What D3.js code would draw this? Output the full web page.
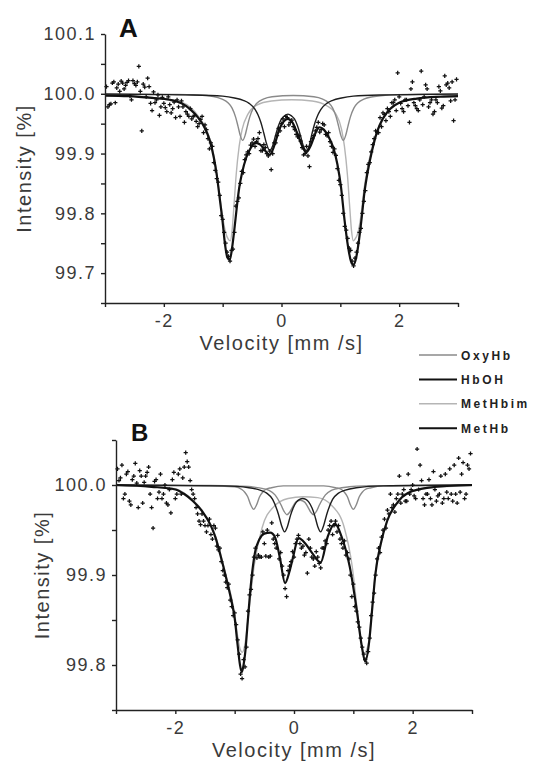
<!DOCTYPE html>
<html>
<head>
<meta charset="utf-8">
<script src="https://cdn.jsdelivr.net/npm/d3@7"></script>
<style>
  body { margin: 0; background: #fff; }
  svg { display: block; font-family: "Liberation Sans", Arial, sans-serif; }
  .axis path, .axis line { stroke: #222; stroke-width: 1.4; }
  .axis text { font-size: 18px; fill: #3a3a3a; letter-spacing: 1.5px; font-family: "Liberation Sans", Arial, sans-serif; }
  .title { font-weight: bold; fill: #111; }
  .label { font-size: 20px; fill: #3a3a3a; letter-spacing: 1.5px; }
  .legend text { font-size: 12px; font-weight: bold; fill: #222; letter-spacing: 2.6px; }
</style>
</head>
<body>
<svg id="chart" width="534" height="761"></svg>
<script>
//channel velocities (mm/s), same for both spectra (two interleaved channel sets)
const velocity = [
  -2.975,-2.925,-2.875,-2.825,-2.775,-2.725,-2.675,-2.625,-2.575,-2.525,
  -2.475,-2.425,-2.375,-2.325,-2.275,-2.225,-2.175,-2.125,-2.075,-2.025,
  -1.975,-1.925,-1.875,-1.825,-1.775,-1.725,-1.675,-1.625,-1.575,-1.525,
  -1.475,-1.425,-1.375,-1.325,-1.275,-1.225,-1.175,-1.125,-1.075,-1.025,
  -0.975,-0.925,-0.875,-0.825,-0.775,-0.725,-0.675,-0.625,-0.575,-0.525,
  -0.475,-0.425,-0.375,-0.325,-0.275,-0.225,-0.175,-0.125,-0.075,-0.025,
  0.025,0.075,0.125,0.175,0.225,0.275,0.325,0.375,0.425,0.475,
  0.525,0.575,0.625,0.675,0.725,0.775,0.825,0.875,0.925,0.975,
  1.025,1.075,1.125,1.175,1.225,1.275,1.325,1.375,1.425,1.475,
  1.525,1.575,1.625,1.675,1.725,1.775,1.825,1.875,1.925,1.975,
  2.025,2.075,2.125,2.175,2.225,2.275,2.325,2.375,2.425,2.475,
  2.525,2.575,2.625,2.675,2.725,2.775,2.825,2.875,2.925,2.975
]
const velocityMid = [
  -2.95,-2.9,-2.85,-2.8,-2.75,-2.7,-2.65,-2.6,-2.55,-2.5,
  -2.45,-2.4,-2.35,-2.3,-2.25,-2.2,-2.15,-2.1,-2.05,-2.0,
  -1.95,-1.9,-1.85,-1.8,-1.75,-1.7,-1.65,-1.6,-1.55,-1.5,
  -1.45,-1.4,-1.35,-1.3,-1.25,-1.2,-1.15,-1.1,-1.05,-1.0,
  -0.95,-0.9,-0.85,-0.8,-0.75,-0.7,-0.65,-0.6,-0.55,-0.5,
  -0.45,-0.4,-0.35,-0.3,-0.25,-0.2,-0.15,-0.1,-0.05,0.0,
  0.05,0.1,0.15,0.2,0.25,0.3,0.35,0.4,0.45,0.5,
  0.55,0.6,0.65,0.7,0.75,0.8,0.85,0.9,0.95,1.0,
  1.05,1.1,1.15,1.2,1.25,1.3,1.35,1.4,1.45,1.5,
  1.55,1.6,1.65,1.7,1.75,1.8,1.85,1.9,1.95,2.0,
  2.05,2.1,2.15,2.2,2.25,2.3,2.35,2.4,2.45,2.5,
  2.55,2.6,2.65,2.7,2.75,2.8,2.85,2.9,2.95
]

//measured intensity (%), spectrum A
const intensityA = [
  100.012,99.982,100.018,99.985,100.016,100.021,100.008,100.019,99.996,100.022,
  100.014,100.046,99.938,100.011,100.026,99.984,100.003,99.99,99.964,99.994,
  99.977,99.995,99.968,99.986,99.99,99.962,99.978,99.97,99.962,99.958,
  99.964,99.945,99.957,99.935,99.94,99.908,99.912,99.872,99.852,99.796,
  99.768,99.735,99.72,99.74,99.812,99.826,99.87,99.89,99.903,99.914,
  99.924,99.92,99.935,99.905,99.91,99.896,99.873,99.918,99.93,99.938,
  99.958,99.962,99.948,99.956,99.94,99.928,99.921,99.898,99.912,99.878,
  99.925,99.938,99.952,99.94,99.948,99.93,99.92,99.902,99.897,99.855,
  99.83,99.778,99.758,99.738,99.712,99.735,99.768,99.8,99.838,99.882,
  99.903,99.925,99.935,99.96,99.968,99.955,99.97,99.985,99.99,100.035,
  99.984,99.97,99.99,99.952,100.02,99.98,99.972,100.038,99.995,100.008,
  99.985,99.966,99.99,100.012,99.976,100.03,100.018,99.988,99.955,100.024
]
const intensityMidA = [
  99.978,99.983,100.02,100.01,100.004,100.018,100.014,100.022,99.99,100.017,
  100.02,100.004,100.016,99.995,100.012,99.972,99.985,99.998,99.978,99.984,
  99.97,99.982,99.975,99.96,99.978,99.988,99.952,99.966,99.975,99.962,
  99.954,99.95,99.962,99.948,99.925,99.918,99.885,99.858,99.83,99.79,
  99.75,99.728,99.738,99.768,99.82,99.85,99.868,99.898,99.9,99.918,
  99.912,99.925,99.905,99.915,99.9,99.904,99.9,99.918,99.942,99.95,
  99.945,99.96,99.952,99.945,99.932,99.93,99.91,99.9,99.896,99.92,
  99.93,99.944,99.936,99.95,99.932,99.935,99.912,99.908,99.875,99.848,
  99.8,99.772,99.742,99.72,99.725,99.75,99.775,99.82,99.868,99.885,
  99.915,99.938,99.935,99.945,99.965,99.975,99.962,99.985,99.972,99.995,
  99.975,99.99,99.98,100.008,99.985,99.975,99.99,99.982,100.015,99.978,
  99.99,99.97,99.985,100.005,99.98,100.015,100.01,100.02,99.99
]

//measured intensity (%), spectrum B
const intensityB = [
  100.018,100.008,99.985,100.012,99.982,100.006,100.024,99.975,100.01,100.003,
  100.014,99.99,99.952,100.006,99.992,99.985,100.0,99.978,99.969,100.014,
  99.99,100.018,100.008,100.036,100.02,99.995,99.985,99.968,99.956,99.96,
  99.948,99.962,99.94,99.952,99.928,99.915,99.9,99.886,99.872,99.855,
  99.845,99.812,99.785,99.798,99.86,99.884,99.92,99.919,99.92,99.948,
  99.921,99.92,99.958,99.935,99.944,99.925,99.9,99.876,99.91,99.926,
  99.935,99.944,99.93,99.922,99.902,99.93,99.918,99.926,99.913,99.93,
  99.938,99.95,99.96,99.955,99.948,99.94,99.93,99.922,99.918,99.876,
  99.865,99.848,99.83,99.812,99.802,99.83,99.87,99.9,99.93,99.942,
  99.962,99.972,99.99,99.978,99.985,100.01,99.99,99.982,100.012,99.995,
  99.988,100.04,100.022,99.985,99.99,100.006,99.978,99.995,99.988,100.01,
  99.985,99.992,100.018,99.982,99.99,100.03,100.012,99.985,100.022,100.035
]
const intensityMidB = [
  100.005,100.022,99.99,100.015,99.978,100.01,100.002,100.016,99.98,100.01,
  100.02,99.975,100.004,99.985,100.012,99.99,99.98,99.995,100.006,99.985,
  100.012,99.99,100.02,100.026,100.005,99.99,99.975,99.96,99.968,99.955,
  99.955,99.945,99.955,99.932,99.93,99.905,99.892,99.89,99.865,99.858,
  99.828,99.79,99.806,99.82,99.878,99.9,99.93,99.922,99.92,99.935,
  99.95,99.921,99.94,99.93,99.918,99.91,99.885,99.905,99.915,99.92,
  99.94,99.935,99.932,99.925,99.94,99.92,99.91,99.92,99.908,99.93,
  99.935,99.955,99.945,99.96,99.955,99.935,99.938,99.925,99.9,99.89,
  99.86,99.842,99.82,99.806,99.815,99.855,99.88,99.918,99.925,99.95,
  99.952,99.968,99.975,99.97,99.99,99.98,99.995,99.982,99.99,100.0,
  99.985,99.995,100.005,99.978,99.99,99.985,100.015,99.982,99.99,99.98,
  100.012,99.985,99.99,100.022,99.98,99.992,100.025,99.99,100.018
]

//fitted curves, [velocity, intensity]
const totalFitA = [[-3,99.997],[-2.6,99.996],[-2.2,99.993],[-1.9,99.99],[-1.7,99.984],[-1.55,99.974],[-1.4,99.958],[-1.3,99.942],[-1.22,99.922],[-1.15,99.893],[-1.1,99.864],[-1.05,99.825],[-1.0,99.785],[-0.96,99.748],[-0.92,99.726],[-0.88,99.722],[-0.84,99.742],[-0.8,99.774],[-0.76,99.81],[-0.72,99.842],[-0.67,99.868],[-0.6,99.893],[-0.52,99.91],[-0.44,99.918],[-0.36,99.915],[-0.28,99.905],[-0.2,99.898],[-0.12,99.914],[-0.04,99.94],[0.04,99.954],[0.11,99.958],[0.18,99.953],[0.26,99.936],[0.34,99.915],[0.42,99.902],[0.5,99.914],[0.58,99.935],[0.65,99.944],[0.72,99.94],[0.8,99.928],[0.88,99.91],[0.95,99.882],[1.01,99.845],[1.07,99.79],[1.13,99.745],[1.18,99.72],[1.22,99.714],[1.26,99.722],[1.31,99.75],[1.36,99.79],[1.41,99.835],[1.47,99.872],[1.54,99.905],[1.62,99.935],[1.72,99.958],[1.85,99.975],[2.0,99.985],[2.3,99.992],[2.7,99.995],[3,99.996]]
const metHbimA = [[-3,99.998],[-2.2,99.994],[-1.7,99.986],[-1.4,99.961],[-1.3,99.945],[-1.22,99.925],[-1.15,99.897],[-1.1,99.868],[-1.05,99.83],[-1.0,99.794],[-0.95,99.768],[-0.9,99.756],[-0.87,99.754],[-0.84,99.771],[-0.81,99.81],[-0.77,99.865],[-0.72,99.912],[-0.67,99.94],[-0.57,99.966],[-0.42,99.981],[-0.17,99.988],[0.175,99.99],[0.52,99.988],[0.77,99.98],[0.92,99.967],[1.02,99.941],[1.07,99.912],[1.12,99.865],[1.16,99.81],[1.19,99.771],[1.22,99.754],[1.25,99.757],[1.3,99.768],[1.35,99.796],[1.4,99.838],[1.46,99.875],[1.53,99.906],[1.61,99.934],[1.72,99.958],[1.85,99.975],[2.0,99.985],[2.5,99.994],[3,99.997]]
const oxyHbA = [[-3,100.0],[-1.86,99.999],[-1.46,99.998],[-1.16,99.9955],[-1.01,99.991],[-0.91,99.985],[-0.84,99.976],[-0.78,99.961],[-0.74,99.946],[-0.7,99.93],[-0.66,99.922],[-0.62,99.93],[-0.58,99.946],[-0.54,99.961],[-0.48,99.976],[-0.41,99.985],[-0.31,99.991],[-0.16,99.995],[0.2,99.997],[0.55,99.995],[0.7,99.991],[0.8,99.985],[0.87,99.976],[0.93,99.961],[0.97,99.946],[1.01,99.93],[1.05,99.922],[1.09,99.93],[1.13,99.946],[1.17,99.961],[1.23,99.976],[1.3,99.985],[1.4,99.991],[1.55,99.995],[1.85,99.998],[3,100.0]]
const hbohA = [[-3,99.9995],[-1.5,99.998],[-1.0,99.996],[-0.8,99.993],[-0.65,99.989],[-0.55,99.984],[-0.45,99.974],[-0.4,99.965],[-0.35,99.952],[-0.3,99.934],[-0.25,99.915],[-0.2,99.905],[-0.15,99.913],[-0.1,99.931],[-0.05,99.947],[0.0,99.958],[0.05,99.963],[0.11,99.966],[0.17,99.963],[0.22,99.958],[0.27,99.947],[0.32,99.931],[0.37,99.913],[0.42,99.905],[0.47,99.913],[0.52,99.934],[0.57,99.952],[0.62,99.965],[0.67,99.974],[0.77,99.984],[0.87,99.989],[1.02,99.993],[1.22,99.996],[1.72,99.998],[3,99.9995]]

const totalFitB = [[-3,100.0],[-2.4,99.998],[-2.0,99.995],[-1.85,99.99],[-1.7,99.982],[-1.55,99.971],[-1.41,99.956],[-1.32,99.941],[-1.24,99.922],[-1.13,99.893],[-1.05,99.87],[-1.0,99.852],[-0.95,99.822],[-0.91,99.8],[-0.88,99.792],[-0.85,99.8],[-0.82,99.815],[-0.78,99.848],[-0.72,99.894],[-0.66,99.924],[-0.58,99.94],[-0.5,99.946],[-0.4,99.947],[-0.32,99.942],[-0.24,99.92],[-0.15,99.891],[-0.08,99.903],[-0.03,99.916],[0.08,99.941],[0.19,99.935],[0.31,99.924],[0.45,99.914],[0.57,99.943],[0.69,99.957],[0.8,99.943],[0.94,99.909],[1.06,99.86],[1.14,99.822],[1.2,99.804],[1.26,99.822],[1.32,99.864],[1.37,99.9],[1.46,99.934],[1.57,99.96],[1.75,99.981],[1.92,99.991],[2.27,99.997],[3,100.0]]
const metHbimB = [[-3,99.999],[-2.4,99.998],[-2.0,99.996],[-1.85,99.991],[-1.7,99.983],[-1.55,99.972],[-1.41,99.957],[-1.32,99.943],[-1.24,99.924],[-1.13,99.896],[-1.05,99.874],[-1.0,99.857],[-0.95,99.832],[-0.91,99.818],[-0.87,99.814],[-0.82,99.826],[-0.77,99.854],[-0.67,99.911],[-0.54,99.952],[-0.34,99.976],[-0.1,99.985],[0.155,99.987],[0.4,99.986],[0.64,99.977],[0.85,99.952],[0.98,99.91],[1.08,99.853],[1.13,99.825],[1.18,99.813],[1.22,99.816],[1.26,99.826],[1.32,99.866],[1.37,99.902],[1.46,99.935],[1.57,99.961],[1.75,99.982],[1.92,99.991],[2.3,99.997],[3,99.999]]
const oxyHbB = [[-3,100.0],[-1.4,99.999],[-1.0,99.998],[-0.88,99.995],[-0.83,99.992],[-0.78,99.987],[-0.73,99.978],[-0.68,99.973],[-0.63,99.978],[-0.58,99.987],[-0.53,99.992],[-0.48,99.995],[-0.38,99.997],[-0.18,99.999],[0.2,99.999],[0.5,99.999],[0.7,99.997],[0.8,99.995],[0.85,99.992],[0.9,99.987],[0.95,99.978],[1.0,99.973],[1.05,99.978],[1.1,99.987],[1.15,99.992],[1.2,99.995],[1.3,99.997],[1.5,99.999],[3,100.0]]
const hbohB = [[-3,100.0],[-1.2,99.999],[-0.76,99.997],[-0.56,99.994],[-0.46,99.991],[-0.36,99.984],[-0.26,99.967],[-0.21,99.955],[-0.16,99.948],[-0.11,99.954],[-0.06,99.966],[-0.01,99.975],[0.04,99.981],[0.095,99.984],[0.145,99.985],[0.2,99.984],[0.25,99.981],[0.3,99.975],[0.35,99.966],[0.4,99.954],[0.45,99.948],[0.5,99.955],[0.55,99.967],[0.65,99.984],[0.75,99.991],[0.85,99.994],[1.05,99.997],[1.5,99.999],[3,100.0]]
const metHbB = [[-3,100.0],[-1.5,99.9995],[-1.0,99.999],[-0.72,99.998],[-0.52,99.996],[-0.42,99.994],[-0.32,99.989],[-0.22,99.978],[-0.17,99.971],[-0.12,99.967],[-0.07,99.97],[-0.02,99.976],[0.03,99.981],[0.105,99.983],[0.18,99.981],[0.23,99.976],[0.28,99.97],[0.33,99.967],[0.38,99.971],[0.43,99.978],[0.53,99.989],[0.63,99.994],[0.73,99.996],[0.93,99.998],[1.2,99.999],[3,100.0]]

//axis ticks
const xTicks = [-3, -2, -1, 0, 1, 2, 3]
const xTickLabels = ["", "-2", "", "0", "", "2", ""]
const yTicksA = [99.65, 99.7, 99.75, 99.8, 99.85, 99.9, 99.95, 100.0, 100.05, 100.1]
const yTickLabelsA = ["", "99.7", "", "99.8", "", "99.9", "", "100.0", "", "100.1"]
const yTicksB = [99.75, 99.8, 99.85, 99.9, 99.95, 100.0, 100.05]
const yTickLabelsB = ["", "99.8", "", "99.9", "", "100.0", ""]

const legendLabels = ["OxyHb", "HbOH", "MetHbim", "MetHb"]

//styles of the fitted lines
const styles = {
  total:   { color: "#111", width: 2.2 },
  oxyHb:   { color: "#8a8a8a", width: 1.4 },
  hboh:    { color: "#1e1e1e", width: 1.4 },
  metHbim: { color: "#b5b5b5", width: 1.4 },
  metHb:   { color: "#222", width: 1.4 }
}
const legendStyles = [styles.oxyHb, { color: "#111", width: 2 }, styles.metHbim, { color: "#111", width: 2 }]

const svg = d3.select("#chart")

const panels = [
  {
    title: "A", titleX: 119, titleY: 37, titleSize: 26,
    xRange: [105, 458], yRange: [303, 34], yDomain: [99.65, 100.1],
    yTicks: yTicksA, yTickLabels: yTickLabelsA,
    intensity: intensityA, intensityMid: intensityMidA,
    fits: [[metHbimA, styles.metHbim], [oxyHbA, styles.oxyHb], [hbohA, styles.hboh], [totalFitA, styles.total]],
    yTitleX: 24, xTitleY: 349.5
  },
  {
    title: "B", titleX: 131, titleY: 441, titleSize: 24,
    xRange: [116, 472], yRange: [710, 440], yDomain: [99.75, 100.05],
    yTicks: yTicksB, yTickLabels: yTickLabelsB,
    intensity: intensityB, intensityMid: intensityMidB,
    fits: [[metHbimB, styles.metHbim], [oxyHbB, styles.oxyHb], [metHbB, styles.oxyHb], [hbohB, styles.hboh], [totalFitB, styles.total]],
    yTitleX: 42, xTitleY: 756.5
  }
]

panels.forEach(drawPanel)
drawLegend()

function drawPanel(p) {
  const x = d3.scaleLinear().domain([-3, 3]).range(p.xRange)
  const y = d3.scaleLinear().domain(p.yDomain).range(p.yRange)
  const g = svg.append("g")

  //fitted lines
  const line = d3.line()
    .x(d => x(d[0]))
    .y(d => y(d[1]))
    .curve(d3.curveMonotoneX)
  p.fits.forEach(f => {
    g.append("path")
      .datum(f[0])
      .attr("d", line)
      .attr("fill", "none")
      .attr("stroke", f[1].color)
      .attr("stroke-width", f[1].width)
      .attr("stroke-linejoin", "round")
  })

  //measured points as small crosses
  const pts = velocity.map((v, i) => [v, p.intensity[i]])
    .concat(velocityMid.map((v, i) => [v, p.intensityMid[i]]))
  g.append("g").selectAll("path")
    .data(pts)
    .join("path")
    .attr("d", d => {
      const cx = x(d[0]), cy = y(d[1])
      return "M" + (cx - 2.1) + "," + cy + "h4.2M" + cx + "," + (cy - 2.1) + "v4.2"
    })
    .attr("stroke", "#111")
    .attr("stroke-width", 1.25)

  //axes
  const xAxis = d3.axisBottom(x)
    .tickValues(xTicks)
    .tickFormat((d, i) => xTickLabels[i])
    .tickSize(4).tickSizeOuter(0).tickPadding(7)
  g.append("g")
    .attr("class", "axis")
    .attr("transform", "translate(0," + p.yRange[0] + ")")
    .call(xAxis)

  const yAxis = d3.axisLeft(y)
    .tickValues(p.yTicks)
    .tickFormat((d, i) => p.yTickLabels[i])
    .tickSize(4).tickSizeOuter(0).tickPadding(5)
  g.append("g")
    .attr("class", "axis")
    .attr("transform", "translate(" + p.xRange[0] + ",0)")
    .call(yAxis)

  //titles
  g.append("text")
    .attr("class", "title")
    .attr("x", p.titleX).attr("y", p.titleY)
    .attr("font-size", p.titleSize)
    .text(p.title)

  g.append("text")
    .attr("class", "label")
    .attr("text-anchor", "middle")
    .attr("x", (p.xRange[0] + p.xRange[1]) / 2)
    .attr("y", p.xTitleY)
    .text("Velocity [mm /s]")

  const yMid = (p.yRange[0] + p.yRange[1]) / 2
  g.append("text")
    .attr("class", "label")
    .attr("text-anchor", "middle")
    .attr("transform", "translate(" + (p.yTitleX + 7) + "," + yMid + ") rotate(-90)")
    .text("Intensity [%]")
}

function drawLegend() {
  const lg = svg.append("g").attr("class", "legend")
  legendLabels.forEach((label, i) => {
    const yy = 355 + i * 24.4
    lg.append("line")
      .attr("x1", 419).attr("x2", 457)
      .attr("y1", yy).attr("y2", yy)
      .attr("stroke", legendStyles[i].color)
      .attr("stroke-width", legendStyles[i].width)
    lg.append("text")
      .attr("x", 461).attr("y", yy + 4.5)
      .text(label)
  })
}
</script>
</body>
</html>
